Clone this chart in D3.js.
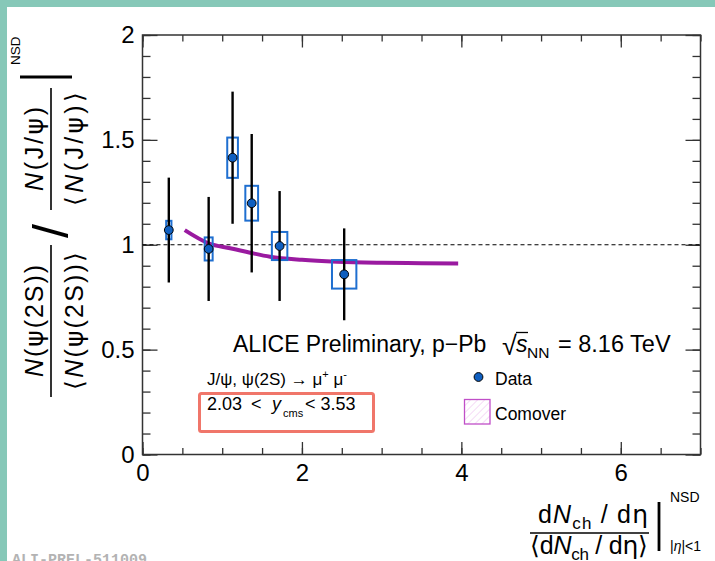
<!DOCTYPE html>
<html><head><meta charset="utf-8">
<script src="https://cdn.jsdelivr.net/npm/d3@7"></script>
<style>
body{margin:0;background:#fff}
svg{display:block}
</style></head><body>
<div id="chart"></div>
<script>
// values
var multX   = [0.33, 0.83, 1.13, 1.37, 1.72, 2.53];
var multXw  = [0.033, 0.05, 0.067, 0.08, 0.097, 0.153];   // half width of the syst. boxes
var ratio   = [1.07, 0.98, 1.415, 1.198, 0.994, 0.859];
var statErr = [0.25, 0.248, 0.315, 0.33, 0.262, 0.219];
var sysErr  = [0.044, 0.055, 0.096, 0.083, 0.067, 0.068];

var comoverX = [0.53, 0.83, 1.1, 1.35, 1.6, 2.0, 2.44, 3.0, 3.5, 3.96];
var comoverY = [1.07, 1.007, 0.983, 0.962, 0.943, 0.928, 0.919, 0.914, 0.912, 0.911];

var xMajor = [0, 2, 4, 6];
var xMinor = d3.range(0, 7.01, 0.5);
var yMajor = [0, 0.5, 1, 1.5, 2];
var yMinor = d3.range(0, 2.01, 0.1);

var width = 715, height = 561;
var font = '"Liberation Sans", Arial, Helvetica, sans-serif';
var greek = '"DejaVu Sans", "Liberation Sans", sans-serif';

var svg = d3.select("#chart").append("svg")
    .attr("width", width).attr("height", height)
    .style("font-family", font);

svg.append("rect").attr("width", width).attr("height", height).attr("fill", "#fff");
// teal frame of the slide
svg.append("rect").attr("x", 0).attr("y", 0).attr("width", width).attr("height", 7).attr("fill", "#86c8b8");
svg.append("rect").attr("x", 0).attr("y", 0).attr("width", 7).attr("height", height).attr("fill", "#86c8b8");

var x = d3.scaleLinear().domain([0, 7]).range([142.5, 700.5]);
var y = d3.scaleLinear().domain([0, 2]).range([454.5, 35]);

function styleAxis(g){
    g.select(".domain").remove();
    g.selectAll(".tick line").attr("stroke", "#333").attr("stroke-width", 1.3);
    g.selectAll("text").attr("font-family", font).attr("font-size", 24).attr("fill", "#000");
}

// ticks, all pointing inside
svg.append("g").attr("transform", "translate(0," + y(0) + ")")
    .call(d3.axisBottom(x).tickValues(xMinor).tickSize(-6.5).tickSizeOuter(0).tickFormat(""))
    .call(styleAxis);
svg.append("g").attr("transform", "translate(0," + y(0) + ")")
    .call(d3.axisBottom(x).tickValues(xMajor).tickSize(-12.5).tickSizeOuter(0).tickPadding(9).tickFormat(d3.format("d")))
    .call(styleAxis);
svg.append("g").attr("transform", "translate(0," + y(2) + ")")
    .call(d3.axisTop(x).tickValues(xMinor).tickSize(-6.5).tickSizeOuter(0).tickFormat(""))
    .call(styleAxis);
svg.append("g").attr("transform", "translate(0," + y(2) + ")")
    .call(d3.axisTop(x).tickValues(xMajor).tickSize(-12.5).tickSizeOuter(0).tickFormat(""))
    .call(styleAxis);

svg.append("g").attr("transform", "translate(" + x(0) + ",0)")
    .call(d3.axisLeft(y).tickValues(yMinor).tickSize(-8).tickSizeOuter(0).tickFormat(""))
    .call(styleAxis);
svg.append("g").attr("transform", "translate(" + x(0) + ",0)")
    .call(d3.axisLeft(y).tickValues(yMajor).tickSize(-15).tickSizeOuter(0).tickPadding(8).tickFormat(d3.format("")))
    .call(styleAxis);
svg.append("g").attr("transform", "translate(" + x(7) + ",0)")
    .call(d3.axisRight(y).tickValues(yMinor).tickSize(-8).tickSizeOuter(0).tickFormat(""))
    .call(styleAxis);
svg.append("g").attr("transform", "translate(" + x(7) + ",0)")
    .call(d3.axisRight(y).tickValues(yMajor).tickSize(-15).tickSizeOuter(0).tickFormat(""))
    .call(styleAxis);

// frame
svg.append("rect")
    .attr("x", x(0)).attr("y", y(2))
    .attr("width", x(7) - x(0)).attr("height", y(0) - y(2))
    .attr("fill", "none").attr("stroke", "#333").attr("stroke-width", 1.5);

// reference line at 1
svg.append("line")
    .attr("x1", x(0)).attr("x2", x(7))
    .attr("y1", y(1)).attr("y2", y(1))
    .attr("stroke", "#000").attr("stroke-width", 1.1)
    .attr("stroke-dasharray", "4,3");

// comover curve
var line = d3.line().curve(d3.curveMonotoneX)
    .x(function(d){ return x(d[0]); })
    .y(function(d){ return y(d[1]); });
svg.append("path")
    .datum(d3.zip(comoverX, comoverY))
    .attr("d", line)
    .attr("fill", "none")
    .attr("stroke", "#9a1aa0")
    .attr("stroke-width", 4);

var pts = multX.map(function(d, i){
    return {x: d, w: multXw[i], y: ratio[i], st: statErr[i], sy: sysErr[i]};
});

// systematic boxes
svg.selectAll(".sys").data(pts).enter().append("rect")
    .attr("class", "sys")
    .attr("x", function(d){ return x(d.x - d.w); })
    .attr("y", function(d){ return y(d.y + d.sy); })
    .attr("width", function(d){ return x(d.x + d.w) - x(d.x - d.w); })
    .attr("height", function(d){ return y(d.y - d.sy) - y(d.y + d.sy); })
    .attr("fill", "none")
    .attr("stroke", "#1f6fd0")
    .attr("stroke-width", 2);

// statistical bars
svg.selectAll(".stat").data(pts).enter().append("line")
    .attr("class", "stat")
    .attr("x1", function(d){ return x(d.x); })
    .attr("x2", function(d){ return x(d.x); })
    .attr("y1", function(d){ return y(d.y + d.st); })
    .attr("y2", function(d){ return y(d.y - d.st); })
    .attr("stroke", "#000")
    .attr("stroke-width", 2.4);

svg.selectAll(".pt").data(pts).enter().append("circle")
    .attr("class", "pt")
    .attr("cx", function(d){ return x(d.x); })
    .attr("cy", function(d){ return y(d.y); })
    .attr("r", 4.4)
    .attr("fill", "#0f5fc0")
    .attr("stroke", "#000")
    .attr("stroke-width", 1);

// ALICE label
var t1 = svg.append("text").attr("y", 352).attr("font-size", 23).attr("fill", "#000");
t1.append("tspan").attr("x", 233).text("ALICE Preliminary, p\u2212Pb");
t1.append("tspan").attr("x", 502).attr("dy", 3).attr("font-size", 27).attr("font-weight", 300).text("\u221A");
t1.append("tspan").attr("x", 516).attr("dy", -3).attr("font-style", "italic").text("s");
t1.append("tspan").attr("x", 527).attr("dy", 6).attr("font-size", 15.5).text("NN");
t1.append("tspan").attr("x", 558).attr("dy", -6).attr("font-size", 23.5).text("= 8.16 TeV");
// overbar of the root sign
svg.append("line").attr("x1", 516).attr("x2", 528).attr("y1", 332.5).attr("y2", 332.5)
    .attr("stroke", "#000").attr("stroke-width", 1.3);

var t2 = svg.append("text").attr("x", 207).attr("y", 385).attr("font-size", 17);
t2.append("tspan").text("J/\u03C8, \u03C8(2S) \u2192 \u03BC");
t2.append("tspan").attr("dy", -7).attr("font-size", 11).text("+");
t2.append("tspan").attr("dy", 7).text(" \u03BC");
t2.append("tspan").attr("dy", -7).attr("font-size", 11).text("-");

var t3 = svg.append("text").attr("y", 410).attr("font-size", 18);
t3.append("tspan").attr("x", 207).text("2.03");
t3.append("tspan").attr("x", 251).text("<");
t3.append("tspan").attr("x", 272).attr("font-style", "italic").text("y");
t3.append("tspan").attr("x", 283).attr("dy", 7).attr("font-size", 11).text("cms");
t3.append("tspan").attr("x", 305).attr("dy", -7).text("< 3.53");

svg.append("rect")
    .attr("x", 199.5).attr("y", 393.5).attr("width", 174).attr("height", 38).attr("rx", 2)
    .attr("fill", "none").attr("stroke", "#f0766a").attr("stroke-width", 3);

// legend
var defs = svg.append("defs");
var pat = defs.append("pattern").attr("id", "hatch")
    .attr("patternUnits", "userSpaceOnUse").attr("width", 5).attr("height", 5)
    .attr("patternTransform", "rotate(45)");
pat.append("line").attr("x1", 0).attr("y1", 0).attr("x2", 0).attr("y2", 5)
    .attr("stroke", "#eab0eb").attr("stroke-width", 0.9);

svg.append("circle").attr("cx", 478.5).attr("cy", 377).attr("r", 4.4)
    .attr("fill", "#0f5fc0").attr("stroke", "#000").attr("stroke-width", 1);
svg.append("text").attr("x", 495).attr("y", 385).attr("font-size", 17.5).text("Data");
svg.append("rect").attr("x", 464.5).attr("y", 399.5).attr("width", 25.5).attr("height", 24.5)
    .attr("fill", "url(#hatch)").attr("stroke", "#c04fc8").attr("stroke-width", 1.3);
svg.append("text").attr("x", 495).attr("y", 420).attr("font-size", 17.5).text("Comover");

// y title (rotated, read bottom to top); local x = -screenY, local y = screenX
var yt = svg.append("g").attr("transform", "rotate(-90)").attr("font-size", 25);
function fracY(c, num, den, numLen, denLen, lineLen){
    var n = yt.append("text").attr("x", c).attr("y", 43).attr("text-anchor", "middle")
        .attr("textLength", numLen).attr("lengthAdjust", "spacing");
    n.append("tspan").attr("font-style", "italic").text("N");
    n.append("tspan").text(num[0]);
    n.append("tspan").attr("font-family", greek).text(num[1]);
    n.append("tspan").text(num[2]);
    var d = yt.append("text").attr("x", c).attr("y", 83).attr("text-anchor", "middle")
        .attr("textLength", denLen).attr("lengthAdjust", "spacing");
    d.append("tspan").text("\u27E8");
    d.append("tspan").attr("font-style", "italic").text("N");
    d.append("tspan").text(den[0]);
    d.append("tspan").attr("font-family", greek).text(den[1]);
    d.append("tspan").text(den[2] + "\u27E9");
    yt.append("line").attr("x1", c - lineLen / 2).attr("x2", c + lineLen / 2)
        .attr("y1", 51).attr("y2", 51)
        .attr("stroke", "#000").attr("stroke-width", 1.6);
}
fracY(-321, ["(", "\u03C8", "(2S))"], ["(", "\u03C8", "(2S))"], 112, 138, 152);
fracY(-149, ["(J/", "\u03C8", ")"], ["(J/", "\u03C8", ")"], 84, 114, 122);
yt.append("text").attr("x", -231).attr("y", 68).attr("text-anchor", "middle")
    .attr("font-size", 50).text("/");
yt.append("line").attr("x1", -77).attr("x2", -77).attr("y1", 20).attr("y2", 72)
    .attr("stroke", "#000").attr("stroke-width", 2.8);
yt.append("text").attr("x", -65).attr("y", 20).attr("font-size", 13.5).text("NSD");

// x title
var xt = svg.append("g").attr("font-size", 25);
var xn = xt.append("text").attr("x", 538).attr("y", 523)
    .attr("textLength", 110).attr("lengthAdjust", "spacing");
xn.append("tspan").text("d");
xn.append("tspan").attr("font-style", "italic").text("N");
xn.append("tspan").attr("dy", 6).attr("font-size", 17).text("ch");
xn.append("tspan").attr("dy", -6).text(" / d");
xn.append("tspan").attr("font-family", greek).text("\u03B7");
var xd = xt.append("text").attr("x", 530).attr("y", 554)
    .attr("textLength", 118).attr("lengthAdjust", "spacing");
xd.append("tspan").text("\u27E8d");
xd.append("tspan").attr("font-style", "italic").text("N");
xd.append("tspan").attr("dy", 6).attr("font-size", 17).text("ch");
xd.append("tspan").attr("dy", -6).text(" / d");
xd.append("tspan").attr("font-family", greek).text("\u03B7");
xd.append("tspan").text("\u27E9");
xt.append("line").attr("x1", 530).attr("x2", 649).attr("y1", 533).attr("y2", 533)
    .attr("stroke", "#000").attr("stroke-width", 1.6);
xt.append("line").attr("x1", 659).attr("x2", 659).attr("y1", 502).attr("y2", 551)
    .attr("stroke", "#000").attr("stroke-width", 2.8);
xt.append("text").attr("x", 670).attr("y", 502).attr("font-size", 14).text("NSD");
var sub = xt.append("text").attr("x", 670).attr("y", 551).attr("font-size", 14);
sub.append("tspan").text("|");
sub.append("tspan").attr("font-style", "italic").text("\u03B7");
sub.append("tspan").text("|<1");

// preliminary id
svg.append("text").attr("x", 12).attr("y", 564)
    .attr("font-family", '"Liberation Mono", "DejaVu Sans Mono", monospace')
    .attr("font-size", 15).attr("font-weight", "bold").attr("fill", "#b3b3b3")
    .text("ALI-PREL-511009");
</script>
</body></html>
